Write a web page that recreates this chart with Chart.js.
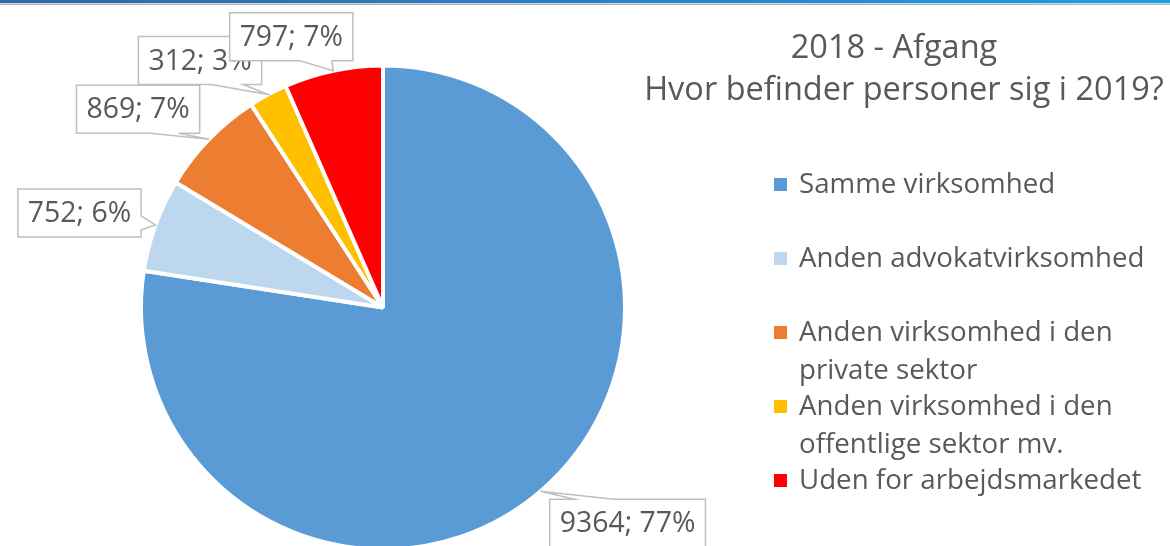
<!DOCTYPE html>
<html>
<head>
<meta charset="utf-8">
<script src="https://cdn.jsdelivr.net/npm/chart.js@4"></script>
<style>
    html, body { margin: 0; padding: 0; width: 1170px; height: 546px; overflow: hidden; background: #fff; }
    #topo { position: absolute; left: 0; top: 0; width: 1170px; height: 3px; z-index: 2;
            background: linear-gradient(to right, #3466a8, #2a86c8 60%, #19a2e0);
            border-bottom: 1px solid #c9d8e6; box-shadow: 0 1px 0 #b4b4b4; }
    #grafico { position: absolute; left: 0; top: 0; }
</style>
</head>
<body>
<div id="topo"></div>
<canvas id="grafico" width="1170" height="600"></canvas>
<script>
// data
const kategorier = [
    'Samme virksomhed',
    'Anden advokatvirksomhed',
    'Anden virksomhed i den private sektor',
    'Anden virksomhed i den offentlige sektor mv.',
    'Uden for arbejdsmarkedet'
];
const antal = [9364, 752, 869, 312, 797];
const procentTekst = ['77%', '6%', '7%', '3%', '7%'];
const farver = ['#5b9bd5', '#bdd7ee', '#ed7d31', '#ffc000', '#ff0000'];
const titelLinjer = ['2018 - Afgang', 'Hvor befinder personer sig i 2019?'];

const tekstFarve = '#595959';
const fontNavn = '"Open Sans", "DejaVu Sans", sans-serif';

// placering af etiketbokse i forhold til spidsen (midten af buen)
const etiketLayout = [
    { dx: 87, dy: 32, side: 'top', a: 0.16, b: 0.41 },
    { dx: -76, dy: -12, side: 'right', a: 0.56, b: 0.85 },
    { dx: -71, dy: -30, side: 'bottom', a: 0.60, b: 0.83 },
    { dx: -68, dy: -34, side: 'bottom', a: 0.59, b: 0.85 },
    { dx: -42, dy: -34, side: 'bottom', a: 0.57, b: 0.83 }
];

function tegnCallout(ctx, x, y, w, h, tip, lay) {
    const pts = [];
    const L = x, R = x + w, T = y, B = y + h;
    // gaa rundt med uret, indsaet spidsen paa den rigtige side
    pts.push([L, T]);
    if (lay.side === 'top') { pts.push([L + w * lay.a, T], tip, [L + w * lay.b, T]); }
    pts.push([R, T]);
    if (lay.side === 'right') { pts.push([R, T + h * lay.a], tip, [R, T + h * lay.b]); }
    pts.push([R, B]);
    if (lay.side === 'bottom') { pts.push([L + w * lay.b, B], tip, [L + w * lay.a, B]); }
    pts.push([L, B]);
    if (lay.side === 'left') { pts.push([L, T + h * lay.b], tip, [L, T + h * lay.a]); }
    ctx.beginPath();
    ctx.moveTo(pts[0][0], pts[0][1]);
    for (let i = 1; i < pts.length; i++) ctx.lineTo(pts[i][0], pts[i][1]);
    ctx.closePath();
    ctx.fillStyle = '#ffffff';
    ctx.fill();
    ctx.lineWidth = 1.5;
    ctx.strokeStyle = '#bfbfbf';
    ctx.stroke();
}

const etiketPlugin = {
    id: 'etiketter',
    afterDatasetsDraw(chart) {
        const ctx = chart.ctx;
        const meta = chart.getDatasetMeta(0);
        ctx.save();
        ctx.font = '28.4px ' + fontNavn;
        meta.data.forEach(function (arc, i) {
            const p = arc.getProps(['x', 'y', 'startAngle', 'endAngle', 'outerRadius'], true);
            const mid = (p.startAngle + p.endAngle) / 2;
            const tip = [p.x + Math.cos(mid) * p.outerRadius, p.y + Math.sin(mid) * p.outerRadius];
            const tekst = antal[i] + '; ' + procentTekst[i];
            const w = ctx.measureText(tekst).width + 20;
            const h = 48;
            const lay = etiketLayout[i];
            const bx = tip[0] + lay.dx - w / 2;
            const by = tip[1] + lay.dy - h / 2;
            tegnCallout(ctx, bx, by, w, h, tip, lay);
            ctx.fillStyle = tekstFarve;
            ctx.textAlign = 'center';
            ctx.textBaseline = 'middle';
            ctx.fillText(tekst, bx + w / 2, by + h / 2 + 1);
        });
        ctx.restore();
    }
};

const titelLegendePlugin = {
    id: 'titelLegende',
    afterDraw(chart) {
        const ctx = chart.ctx;
        ctx.save();
        // titel
        ctx.fillStyle = tekstFarve;
        ctx.textAlign = 'center';
        ctx.textBaseline = 'alphabetic';
        ctx.font = '32.5px ' + fontNavn;
        ctx.fillText(titelLinjer[0], 894, 58);
        ctx.fillText(titelLinjer[1], 904, 100);

        // legende med ombrydning
        ctx.font = '27.7px ' + fontNavn;
        ctx.textAlign = 'left';
        const maxBredde = 365;
        let y = 193;
        kategorier.forEach(function (navn, i) {
            const ord = navn.split(' ');
            const linjer = [];
            let linje = '';
            ord.forEach(function (o) {
                const test = linje ? linje + ' ' + o : o;
                if (ctx.measureText(test).width > maxBredde && linje) {
                    linjer.push(linje);
                    linje = o;
                } else {
                    linje = test;
                }
            });
            linjer.push(linje);
            ctx.fillStyle = farver[i];
            ctx.fillRect(774, y - 15, 13, 13);
            ctx.fillStyle = tekstFarve;
            linjer.forEach(function (l, j) {
                ctx.fillText(l, 799, y + j * 38);
            });
            y += 74;
        });
        ctx.restore();
    }
};

const grafico = new Chart(document.getElementById('grafico'), {
    type: 'pie',
    data: {
        labels: kategorier,
        datasets: [{
            data: antal,
            backgroundColor: farver,
            borderColor: '#ffffff',
            borderWidth: 4
        }]
    },
    options: {
        responsive: false,
        animation: false,
        rotation: 0,
        layout: {
            padding: { left: 139, top: 63, right: 543, bottom: 48 }
        },
        plugins: {
            legend: { display: false },
            tooltip: { enabled: false },
            title: { display: false }
        }
    },
    plugins: [etiketPlugin, titelLegendePlugin]
});
</script>
</body>
</html>
